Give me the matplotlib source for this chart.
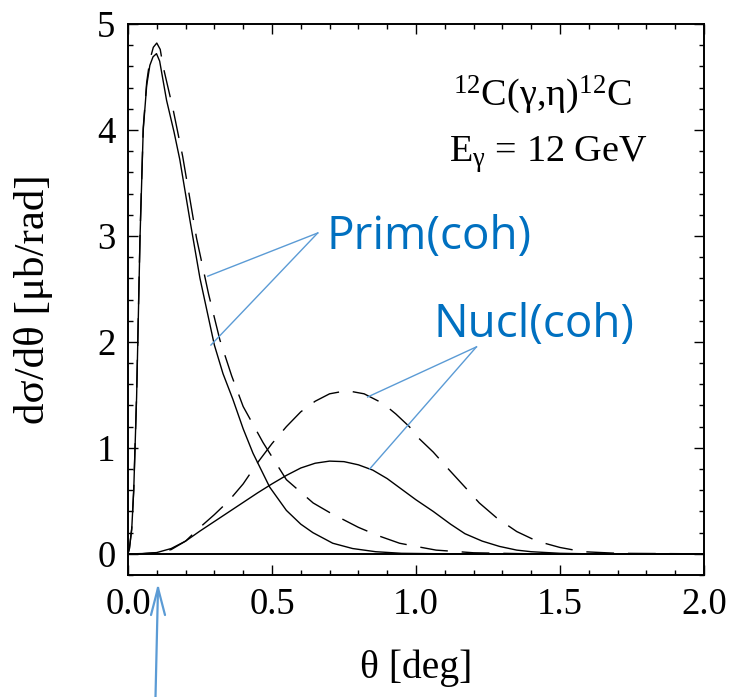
import matplotlib.pyplot as plt
from matplotlib.lines import Line2D
from matplotlib.ticker import MultipleLocator

plt.rcParams['font.family'] = 'Liberation Serif'
plt.rcParams['mathtext.fontset'] = 'custom'
plt.rcParams['mathtext.rm'] = 'Liberation Serif'
plt.rcParams['mathtext.it'] = 'Liberation Serif'

# primakoff (coherent), solid and dashed
prim_x = [0.0, 0.005, 0.013, 0.02, 0.03, 0.042, 0.053, 0.065, 0.076, 0.087, 0.099,
          0.11, 0.134, 0.16, 0.18, 0.215, 0.25, 0.30, 0.33, 0.364, 0.40, 0.434,
          0.492, 0.55, 0.60, 0.642, 0.711, 0.78, 0.86, 0.95, 1.1, 2.0]
prim_y = [0.0, 0.05, 0.23, 0.6, 1.48, 3.0, 4.0, 4.42, 4.61, 4.69, 4.72,
          4.65, 4.28, 3.98, 3.72, 3.15, 2.6, 1.97, 1.70, 1.46, 1.18, 0.95,
          0.63, 0.41, 0.28, 0.2, 0.10, 0.05, 0.02, 0.005, 0.0, 0.0]

prim_dash_x = [0.0, 0.005, 0.013, 0.02, 0.03, 0.042, 0.053, 0.065, 0.076, 0.088, 0.1,
               0.112, 0.122, 0.157, 0.19, 0.238, 0.28, 0.319, 0.36, 0.4, 0.469,
               0.55, 0.643, 0.70, 0.80, 0.87, 0.943, 1.02, 1.07, 1.2, 1.4, 2.0]
prim_dash_y = [0.0, 0.05, 0.24, 0.6, 1.5, 3.02, 4.02, 4.45, 4.66, 4.78, 4.82,
               4.76, 4.6, 4.19, 3.75, 2.98, 2.45, 2.02, 1.68, 1.39, 1.05,
               0.70, 0.48, 0.39, 0.25, 0.17, 0.10, 0.06, 0.035, 0.01, 0.0, 0.0]

# nuclear (coherent), solid and dashed
nucl_x = [0.0, 0.05, 0.1, 0.15, 0.2, 0.25, 0.3, 0.35, 0.4, 0.45, 0.5, 0.55, 0.6,
          0.65, 0.7, 0.75, 0.8, 0.85, 0.9, 0.95, 1.0, 1.06, 1.12, 1.17, 1.23,
          1.29, 1.35, 1.4, 1.5, 1.6, 2.0]
nucl_y = [0.0, 0.002, 0.012, 0.05, 0.12, 0.215, 0.305, 0.395, 0.485, 0.575, 0.66, 0.74, 0.81,
          0.855, 0.875, 0.87, 0.84, 0.79, 0.71, 0.61, 0.51, 0.40, 0.28, 0.19, 0.12,
          0.07, 0.035, 0.02, 0.005, 0.0, 0.0]

nucl_dash_x = [0.0, 0.05, 0.1, 0.15, 0.2, 0.25, 0.3, 0.35, 0.4, 0.45, 0.5, 0.55, 0.6,
               0.65, 0.7, 0.76, 0.82, 0.885, 0.93, 0.977, 1.01, 1.06, 1.116, 1.17,
               1.22, 1.28, 1.35, 1.42, 1.5, 1.58, 1.7, 2.0]
nucl_dash_y = [0.0, 0.002, 0.01, 0.04, 0.12, 0.25, 0.37, 0.5, 0.66, 0.86, 1.04, 1.2, 1.34,
               1.44, 1.51, 1.54, 1.51, 1.42, 1.32, 1.20, 1.09, 0.96, 0.79, 0.63,
               0.48, 0.34, 0.21, 0.12, 0.06, 0.02, 0.005, 0.0]

x_ticks = [0.0, 0.5, 1.0, 1.5, 2.0]
x_ticklabels = ['0.0', '0.5', '1.0', '1.5', '2.0']
y_ticks = [0, 1, 2, 3, 4, 5]

fig = plt.figure(figsize=(7.38, 6.97), dpi=100)
ax = fig.add_axes([0.1734, 0.175, 0.7805, 0.7906])

ax.axhline(0, color='black', lw=1.4, zorder=1)
dash = (0, (20, 10))
ax.plot(prim_x, prim_y, color='black', lw=1.0)
ax.plot(prim_dash_x, prim_dash_y, color='black', lw=1.0, linestyle=dash)
ax.plot(nucl_x, nucl_y, color='black', lw=1.0)
ax.plot(nucl_dash_x, nucl_dash_y, color='black', lw=1.0, linestyle=dash)

ax.set_xlim(0, 2.0)
ax.set_ylim(-0.2, 5.0)
ax.set_xticks(x_ticks)
ax.set_xticklabels(x_ticklabels)
ax.set_yticks(y_ticks)
ax.xaxis.set_minor_locator(MultipleLocator(0.1))
ax.yaxis.set_minor_locator(MultipleLocator(0.2))
ax.tick_params(which='both', direction='in', top=True, right=True,
               labelsize=26.5, width=1.0)
ax.tick_params(which='major', length=7, pad=9)
ax.tick_params(which='minor', length=3.5)
for s in ax.spines.values():
    s.set_linewidth(1.4)

ax.set_xlabel('θ [deg]', fontsize=28.5)
ax.set_ylabel('dσ/dθ [μb/rad]', fontsize=31)
ax.xaxis.set_label_coords(0.5, -0.135)
ax.yaxis.set_label_coords(-0.13, 0.5)

ax.text(1.44, 4.236, '$^{12}$C(γ,η)$^{12}$C', fontsize=27.5, ha='center', va='baseline')
ax.text(1.46, 3.70, 'E$_{\\mathrm{γ}}$ = 12 GeV', fontsize=27.5, ha='center', va='baseline')

# blue labels with pointer lines
text_blue = '#0070C0'
line_blue = '#5B9BD5'
ax.text(1.047, 2.877, 'Prim(coh)', fontsize=33, color=text_blue, family='Open Sans',
        ha='center', va='baseline')
ax.text(1.41, 2.047, 'Nucl(coh)', fontsize=33, color=text_blue, family='Open Sans',
        ha='center', va='baseline')
for p in [(0.277, 2.62), (0.288, 1.97)]:
    ax.plot([0.659, p[0]], [3.028, p[1]], color=line_blue, lw=1.0)
for p in [(0.832, 1.48), (0.839, 0.80)]:
    ax.plot([1.21, p[0]], [1.953, p[1]], color=line_blue, lw=1.0)

# arrow marking the angle below the axis (figure pixel positions)
W, H = 738, 697
tip = (158 / W, 1 - 588 / H)
tail = (155.5 / W, 0.0)
fig.add_artist(Line2D([tail[0], tip[0]], [tail[1], tip[1]],
                      transform=fig.transFigure, color=line_blue, lw=1.6))
for dx in (-7, 7):
    fig.add_artist(Line2D([tip[0], tip[0] + dx / W], [tip[1], tip[1] - 27 / H],
                          transform=fig.transFigure, color=line_blue, lw=1.6,
                          solid_capstyle='round'))

fig.savefig('out.png', dpi=100)
